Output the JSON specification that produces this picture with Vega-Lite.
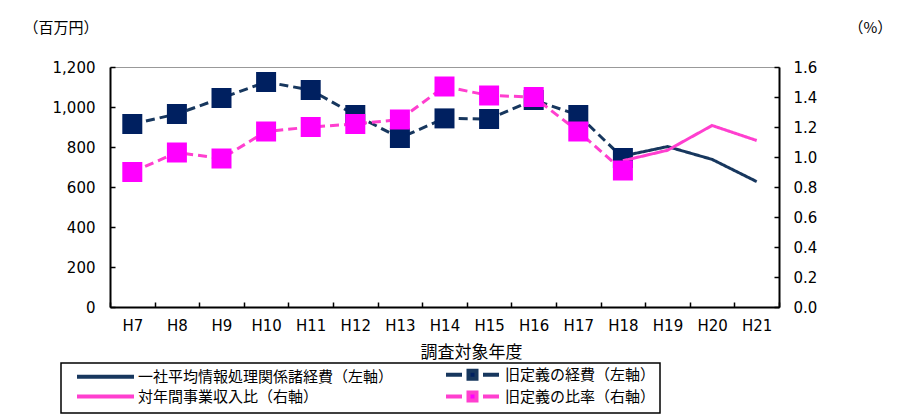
{
  "$schema": "https://vega.github.io/schema/vega-lite/v6.json",
  "width": 669,
  "height": 240,
  "autosize": "none",
  "padding": {"left": 110, "top": 67, "right": 121, "bottom": 109},
  "background": "white",
  "config": {
    "view": {"stroke": "#999999", "strokeWidth": 1},
    "axis": {
      "grid": false,
      "labelColor": "black",
      "titleColor": "black",
      "domainColor": "black",
      "domainWidth": 2,
      "tickColor": "black",
      "tickWidth": 1.5,
      "tickSize": -5,
      "labelFont": "DejaVu Sans",
      "labelFontSize": 15,
      "titleFont": "Noto Sans CJK JP",
      "titleFontSize": 15,
      "titleFontWeight": "normal"
    }
  },
  "data": {
    "values": [
      {"year": "H7", "series": "旧定義の経費（左軸）", "value": 915},
      {"year": "H8", "series": "旧定義の経費（左軸）", "value": 965},
      {"year": "H9", "series": "旧定義の経費（左軸）", "value": 1045},
      {"year": "H10", "series": "旧定義の経費（左軸）", "value": 1125},
      {"year": "H11", "series": "旧定義の経費（左軸）", "value": 1085},
      {"year": "H12", "series": "旧定義の経費（左軸）", "value": 960},
      {"year": "H13", "series": "旧定義の経費（左軸）", "value": 845},
      {"year": "H14", "series": "旧定義の経費（左軸）", "value": 943},
      {"year": "H15", "series": "旧定義の経費（左軸）", "value": 940},
      {"year": "H16", "series": "旧定義の経費（左軸）", "value": 1035},
      {"year": "H17", "series": "旧定義の経費（左軸）", "value": 960},
      {"year": "H18", "series": "旧定義の経費（左軸）", "value": 745},
      {"year": "H18", "series": "一社平均情報処理関係諸経費（左軸）", "value": 755},
      {"year": "H19", "series": "一社平均情報処理関係諸経費（左軸）", "value": 802},
      {"year": "H20", "series": "一社平均情報処理関係諸経費（左軸）", "value": 738},
      {"year": "H21", "series": "一社平均情報処理関係諸経費（左軸）", "value": 627},
      {"year": "H7", "series": "旧定義の比率（右軸）", "value": 0.90},
      {"year": "H8", "series": "旧定義の比率（右軸）", "value": 1.03},
      {"year": "H9", "series": "旧定義の比率（右軸）", "value": 0.99},
      {"year": "H10", "series": "旧定義の比率（右軸）", "value": 1.17},
      {"year": "H11", "series": "旧定義の比率（右軸）", "value": 1.20},
      {"year": "H12", "series": "旧定義の比率（右軸）", "value": 1.22},
      {"year": "H13", "series": "旧定義の比率（右軸）", "value": 1.25},
      {"year": "H14", "series": "旧定義の比率（右軸）", "value": 1.47},
      {"year": "H15", "series": "旧定義の比率（右軸）", "value": 1.41},
      {"year": "H16", "series": "旧定義の比率（右軸）", "value": 1.40},
      {"year": "H17", "series": "旧定義の比率（右軸）", "value": 1.17},
      {"year": "H18", "series": "旧定義の比率（右軸）", "value": 0.91},
      {"year": "H18", "series": "対年間事業収入比（右軸）", "value": 0.975},
      {"year": "H19", "series": "対年間事業収入比（右軸）", "value": 1.045},
      {"year": "H20", "series": "対年間事業収入比（右軸）", "value": 1.21},
      {"year": "H21", "series": "対年間事業収入比（右軸）", "value": 1.11}
    ]
  },
  "encoding": {
    "x": {
      "field": "year",
      "type": "ordinal",
      "sort": ["H7","H8","H9","H10","H11","H12","H13","H14","H15","H16","H17","H18","H19","H20","H21"],
      "scale": {"type": "band", "paddingInner": 0, "paddingOuter": 0},
      "axis": {
        "title": "調査対象年度",
        "titleFontSize": 17,
        "titleX": 361,
        "titleY": 45,
        "titleAlign": "center",
        "titleBaseline": "middle",
        "labelAngle": 0,
        "labelPadding": 16,
        "tickBand": "extent"
      }
    }
  },
  "layer": [
    {
      "transform": [{"filter": "indexof(datum.series, '左軸') >= 0"}],
      "encoding": {
        "y": {
          "field": "value",
          "type": "quantitative",
          "scale": {"domain": [0, 1200]},
          "axis": {
            "orient": "left",
            "values": [0, 200, 400, 600, 800, 1000, 1200],
            "format": ",.0f",
            "labelPadding": 20,
            "title": "（百万円）",
            "titleAngle": 0,
            "titleX": -87,
            "titleY": -40,
            "titleAlign": "left",
            "titleBaseline": "middle"
          }
        }
      },
      "layer": [
        {
          "mark": {"type": "line", "strokeWidth": 3},
          "encoding": {
            "color": {
              "field": "series",
              "type": "nominal",
              "scale": {
                "domain": ["一社平均情報処理関係諸経費（左軸）", "旧定義の経費（左軸）", "対年間事業収入比（右軸）", "旧定義の比率（右軸）"],
                "range": ["#17375e", "#17375e", "#ff3fcf", "#ff3fcf"]
              },
              "legend": {
                "orient": "none",
                "legendX": -49,
                "legendY": 296,
                "columns": 2,
                "direction": "horizontal",
                "title": null,
                "strokeColor": "black",
                "padding": 4,
                "rowPadding": -3,
                "columnPadding": 38,
                "symbolSize": 100,
                "symbolStrokeWidth": 4,
                "symbolOffset": 33,
                "labelOffset": 25,
                "labelFont": "Noto Sans CJK JP",
                "labelFontSize": 15,
                "labelColor": "black",
                "labelLimit": 500,
                "labelExpr": "indexof(datum.label, '旧') === 0 ? datum.label + '　　　　　　　　　' : datum.label",
                "encode": {
                  "legend": {"update": {"strokeWidth": {"value": 1.5}}},
                  "symbols": {
                    "update": {
                      "shape": {"signal": "indexof(datum.value, '旧') === 0 ? 'M-5.3,0H-2.1M2.1,0H5.3M-0.8,-0.8H0.8V0.8H-0.8Z' : 'M-5.7,0H5.7'"},
                      "fill": {"signal": "datum.value === '旧定義の経費（左軸）' ? '#002060' : (datum.value === '旧定義の比率（右軸）' ? '#ff00ff' : 'transparent')"}
                    }
                  }
                }
              }
            },
            "strokeDash": {
              "field": "series",
              "type": "nominal",
              "scale": {
                "domain": ["一社平均情報処理関係諸経費（左軸）", "旧定義の経費（左軸）"],
                "range": [[1, 0], [9, 5]]
              },
              "legend": null
            }
          }
        },
        {
          "transform": [{"filter": "datum.series === '旧定義の経費（左軸）'"}],
          "mark": {"type": "point", "shape": "square", "filled": true, "size": 400, "opacity": 1, "fill": "#002060", "stroke": null}
        }
      ]
    },
    {
      "transform": [{"filter": "indexof(datum.series, '右軸') >= 0"}],
      "encoding": {
        "y": {
          "field": "value",
          "type": "quantitative",
          "scale": {"domain": [0, 1.6]},
          "axis": {
            "orient": "right",
            "values": [0, 0.2, 0.4, 0.6, 0.8, 1.0, 1.2, 1.4, 1.6],
            "format": ".1f",
            "labelPadding": 19,
            "title": "（%）",
            "titleAngle": 0,
            "titleX": 69,
            "titleY": -40,
            "titleAlign": "left",
            "titleBaseline": "middle"
          }
        }
      },
      "layer": [
        {
          "mark": {"type": "line", "strokeWidth": 3},
          "encoding": {
            "color": {"field": "series", "type": "nominal"},
            "strokeDash": {
              "field": "series",
              "type": "nominal",
              "scale": {
                "domain": ["対年間事業収入比（右軸）", "旧定義の比率（右軸）"],
                "range": [[1, 0], [9, 5]]
              },
              "legend": null
            }
          }
        },
        {
          "transform": [{"filter": "datum.series === '旧定義の比率（右軸）'"}],
          "mark": {"type": "point", "shape": "square", "filled": true, "size": 400, "opacity": 1, "fill": "#ff00ff", "stroke": null}
        }
      ]
    }
  ],
  "resolve": {"scale": {"y": "independent", "strokeDash": "independent"}}
}
